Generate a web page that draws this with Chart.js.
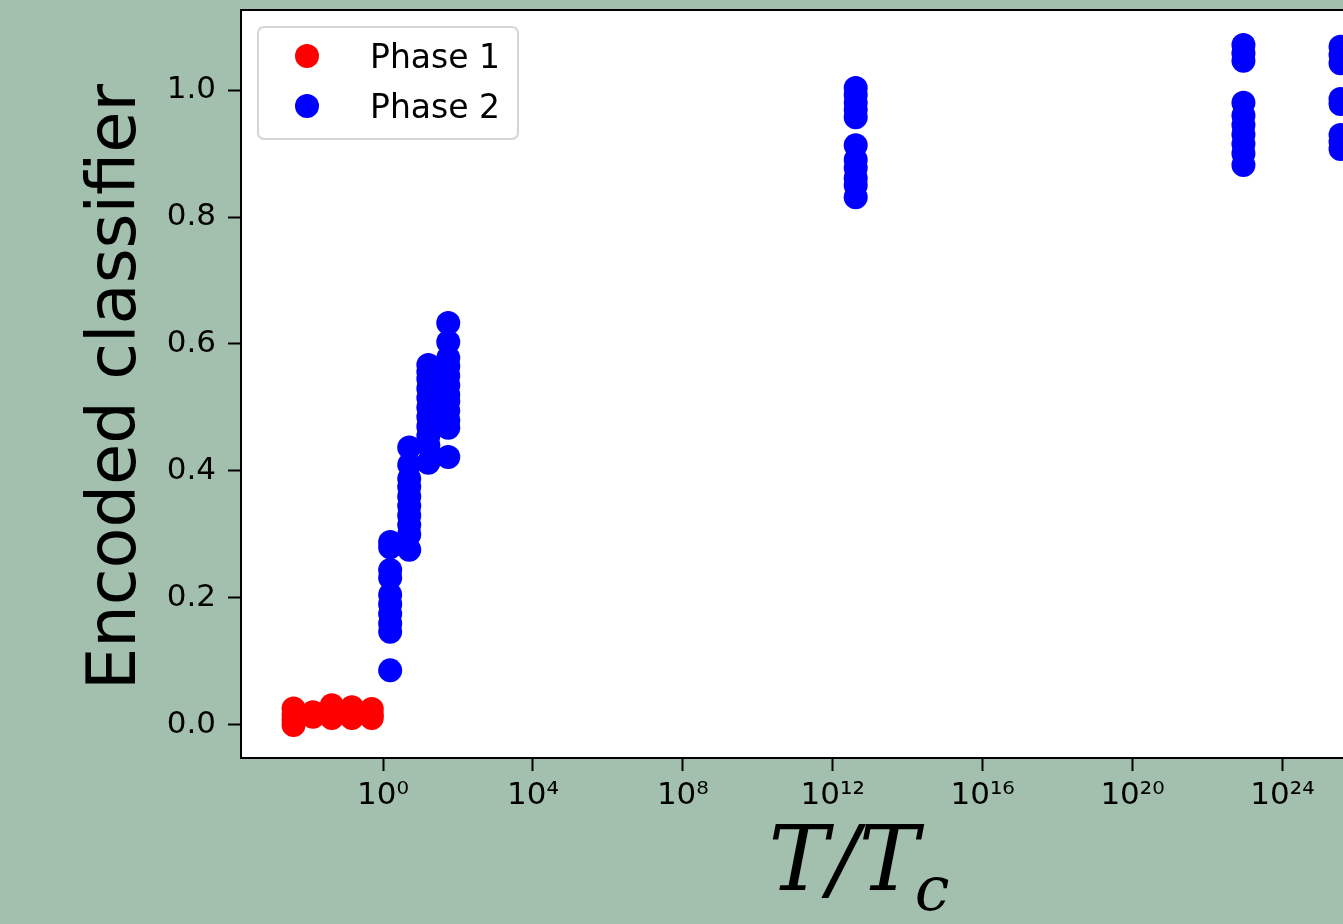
<!DOCTYPE html>
<html lang="en">
<head>
    <meta charset="UTF-8">
    <title>Encoded classifier vs T/Tc</title>
    <script src="https://cdn.jsdelivr.net/npm/chart.js"></script>
    <style>
        body {
            margin: 0;
            padding: 0;
            background-color: #a3c0af;
            overflow: hidden;
        }
        canvas {
            display: block;
        }
    </style>
</head>
<body>
    <canvas id="scatterChart" width="1400" height="924"></canvas>

    <script>
        // Temperatures (T/Tc) for each column of points, and the classifier values in that column
        const phase1Temps = [0.0041, 0.0135, 0.043, 0.148, 0.5];
        const phase1Values = [
            [0.0, 0.008, 0.016, 0.026],
            [0.013, 0.017, 0.02],
            [0.011, 0.02, 0.031],
            [0.011, 0.019, 0.028],
            [0.011, 0.017, 0.025]
        ];
        const phase2Temps = [1.55, 5.0, 16.2, 55, 4.1e12, 9.1e22, 3.55e25];
        const phase2Values = [
            [0.086, 0.147, 0.16, 0.175, 0.19, 0.205, 0.232, 0.244, 0.28, 0.288],
            [0.276, 0.3, 0.315, 0.33, 0.345, 0.36, 0.375, 0.388, 0.41, 0.437],
            [0.413, 0.44, 0.455, 0.47, 0.485, 0.5, 0.515, 0.53, 0.545, 0.556, 0.567],
            [0.422, 0.468, 0.48, 0.495, 0.51, 0.52, 0.535, 0.55, 0.565, 0.578, 0.603, 0.633],
            [0.831, 0.85, 0.861, 0.877, 0.89, 0.913, 0.957, 0.969, 0.98, 0.992, 1.003],
            [0.882, 0.9, 0.915, 0.93, 0.945, 0.96, 0.98, 1.046, 1.058, 1.071],
            [0.907, 0.918, 0.929, 0.978, 0.986, 1.042, 1.055, 1.068]
        ];
        const seriesLabels = ['Phase 1', 'Phase 2'];
        const xTickExponents = [0, 4, 8, 12, 16, 20, 24];
        const yTicks = [0.0, 0.2, 0.4, 0.6, 0.8, 1.0];

        const superDigits = { '0': '\u2070', '1': '\u00b9', '2': '\u00b2', '4': '\u2074', '6': '\u2076', '8': '\u2078' };

        function toPoints(temps, values) {
            const pts = [];
            temps.forEach((t, i) => values[i].forEach(v => pts.push({ x: t, y: v })));
            return pts;
        }

        function powerLabel(value) {
            const e = String(Math.round(Math.log10(value)));
            return '10' + e.split('').map(d => superDigits[d]).join('');
        }

        // white plot area, frame, legend and axis titles
        const framePlugin = {
            id: 'frame',
            beforeDraw(chart) {
                const { ctx, chartArea: a } = chart;
                ctx.save();
                ctx.fillStyle = '#ffffff';
                ctx.fillRect(a.left, a.top, a.right - a.left, a.bottom - a.top);
                ctx.restore();
            },
            afterDraw(chart) {
                const { ctx, chartArea: a } = chart;
                ctx.save();
                ctx.strokeStyle = '#000000';
                ctx.lineWidth = 2;
                ctx.beginPath();
                ctx.moveTo(a.left, a.top);
                ctx.lineTo(a.right, a.top);
                ctx.lineTo(a.right, a.bottom);
                ctx.stroke();

                // legend box
                ctx.beginPath();
                ctx.roundRect(258, 27, 260, 112, 6);
                ctx.fillStyle = 'rgba(255,255,255,0.8)';
                ctx.fill();
                ctx.strokeStyle = '#d5d5d5';
                ctx.lineWidth = 2;
                ctx.stroke();
                ctx.font = '33px "DejaVu Sans"';
                ctx.textBaseline = 'alphabetic';
                ctx.textAlign = 'left';
                chart.data.datasets.forEach((ds, i) => {
                    const y = 56 + i * 50;
                    ctx.beginPath();
                    ctx.arc(307, y, 12, 0, Math.PI * 2);
                    ctx.fillStyle = ds.backgroundColor;
                    ctx.fill();
                    ctx.fillStyle = '#000000';
                    ctx.fillText(ds.label, 370, y + 12);
                });

                // y axis title
                ctx.save();
                ctx.translate(135, (a.top + a.bottom) / 2 + 3);
                ctx.rotate(-Math.PI / 2);
                ctx.textAlign = 'center';
                ctx.font = '67px "DejaVu Sans"';
                ctx.fillText('Encoded classifier', 0, 0);
                ctx.restore();

                // x axis title T/T_c
                const big = 'italic 90px "DejaVu Serif"';
                const small = 'italic 62px "DejaVu Serif"';
                ctx.font = big;
                const w1 = ctx.measureText('T/T').width;
                ctx.font = small;
                const w2 = ctx.measureText('c').width;
                const x0 = 861 - (w1 + w2) / 2;
                ctx.textAlign = 'left';
                ctx.font = big;
                ctx.fillText('T/T', x0, 890);
                ctx.font = small;
                ctx.fillText('c', x0 + w1 - 4, 910);
                ctx.restore();
            }
        };

        const ctx = document.getElementById('scatterChart').getContext('2d');
        new Chart(ctx, {
            type: 'scatter',
            data: {
                datasets: [{
                    label: seriesLabels[0],
                    data: toPoints(phase1Temps, phase1Values),
                    backgroundColor: '#ff0000',
                    borderWidth: 0,
                    pointRadius: 12,
                    pointHoverRadius: 12
                }, {
                    label: seriesLabels[1],
                    data: toPoints(phase2Temps, phase2Values),
                    backgroundColor: '#0000ff',
                    borderWidth: 0,
                    pointRadius: 12,
                    pointHoverRadius: 12
                }]
            },
            options: {
                responsive: false,
                animation: false,
                devicePixelRatio: 1,
                layout: { autoPadding: false, padding: { top: 10, right: 7, left: 0, bottom: 0 } },
                plugins: {
                    legend: { display: false },
                    tooltip: { enabled: false }
                },
                scales: {
                    x: {
                        type: 'logarithmic',
                        min: Math.pow(10, -3.79),
                        max: Math.pow(10, 26.95),
                        afterBuildTicks: s => { s.ticks = xTickExponents.map(e => ({ value: Math.pow(10, e) })); },
                        afterFit: s => { s.height = 166; s.paddingLeft = 0; s.paddingRight = 0; },
                        grid: { drawOnChartArea: false, drawTicks: true, tickLength: 13, tickColor: '#000000', tickWidth: 2 },
                        border: { color: '#000000', width: 2 },
                        ticks: {
                            autoSkip: false,
                            maxRotation: 0,
                            padding: 6,
                            color: '#000000',
                            font: { family: 'DejaVu Sans', size: 31 },
                            callback: v => powerLabel(v)
                        }
                    },
                    y: {
                        type: 'linear',
                        min: -0.052,
                        max: 1.126,
                        afterBuildTicks: s => { s.ticks = yTicks.map(v => ({ value: v })); },
                        afterFit: s => { s.width = 241; s.paddingTop = 0; s.paddingBottom = 0; },
                        grid: { drawOnChartArea: false, drawTicks: true, tickLength: 13, tickColor: '#000000', tickWidth: 2 },
                        border: { color: '#000000', width: 2 },
                        ticks: {
                            padding: 12,
                            color: '#000000',
                            font: { family: 'DejaVu Sans', size: 31 },
                            callback: v => v.toFixed(1)
                        }
                    }
                }
            },
            plugins: [framePlugin]
        });
    </script>
</body>
</html>
